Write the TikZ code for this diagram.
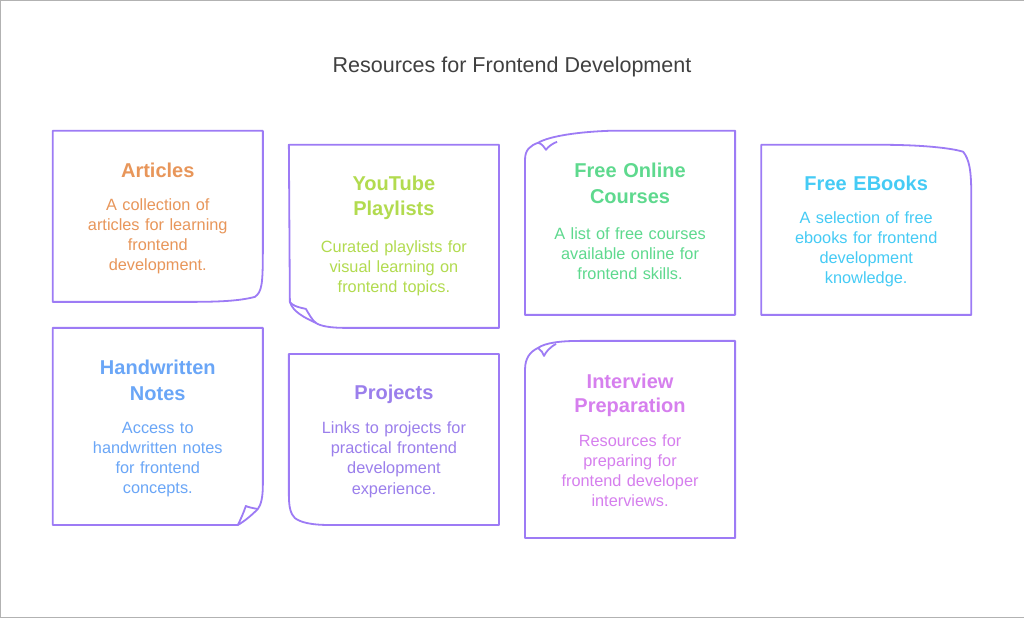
\documentclass[tikz,border=0pt]{standalone}
\usepackage{fontspec}
\setmainfont{Liberation Sans}
\definecolor{frame}{HTML}{9D7BF5}
\definecolor{cA}{HTML}{E8965A}
\definecolor{cB}{HTML}{B2DB4F}
\definecolor{cC}{HTML}{5ED98E}
\definecolor{cD}{HTML}{45CBF5}
\definecolor{cE}{HTML}{6AA6F7}
\definecolor{cF}{HTML}{9B7FEC}
\definecolor{cG}{HTML}{D67FEE}
\begin{document}
\begin{tikzpicture}[x=1pt,y=-1pt,
  outline/.style={draw=frame,line width=1.8pt,line join=round},
  ttl/.style={font=\bfseries\fontsize{20}{26}\selectfont,align=center,text width=200pt,anchor=center,inner sep=0},
  bdy/.style={font=\fontsize{16.3}{20}\selectfont,align=center,text width=200pt,anchor=north,inner sep=0}]
\path[use as bounding box,draw=gray!60,fill=white] (0.5,0.5) rectangle (1023.5,617.5);
\node[font=\fontsize{21.5}{24}\selectfont,text=black!75] (title) at (512,67) {Resources for Frontend Development};
% Articles (bottom-right curl)
\draw[outline] (53,131) -- (263,131) -- (263,250) .. controls (263,285) and (262,292) .. (255,297) .. controls (240,301) and (220,302) .. (190,302) -- (53,302) -- cycle;
\node[ttl,text=cA] (t1) at (158,171) {Articles};
\node[bdy,text=cA] (b1) at (158,199) {A collection of\\articles for learning\\frontend\\development.};
% YouTube (bottom-left curl)
\draw[outline] (289,145) -- (499,145) -- (499,328) -- (345,328) .. controls (330,328) and (320,326) .. (316,323) .. controls (305,318) and (293,312) .. (290,302) -- cycle;
\draw[outline] (290,302) .. controls (292,305) and (296,307) .. (306,309) .. controls (309,314) and (312,320) .. (316,323);
\node[ttl,text=cB] (t2) at (394,184) {YouTube};
\node[ttl,text=cB] (t2b) at (394,211) {Playlists};
\node[bdy,text=cB] (b2) at (394,241) {Curated playlists for\\visual learning on\\frontend topics.};
% Free Online Courses (top-left curl)
\draw[outline] (525,315) -- (735,315) -- (735,131) -- (610,131) .. controls (580,132) and (550,136) .. (538,143) .. controls (530,146) and (525,150) .. (525,160) -- cycle;
\draw[outline] (538,143) .. controls (542,144) and (544,147) .. (546,150) .. controls (548,147) and (552,144) .. (557,142);
\node[ttl,text=cC] (t3) at (630,171) {Free Online};
\node[ttl,text=cC] (t3b) at (630,197) {Courses};
\node[bdy,text=cC] (b3) at (630,228) {A list of free courses\\available online for\\frontend skills.};
% Free EBooks (top-right curl)
\draw[outline] (761,145) -- (880,145) .. controls (920,145) and (950,148) .. (963,152) .. controls (969,160) and (971,170) .. (971,195) -- (971,315) -- (761,315) -- cycle;
\node[ttl,text=cD] (t4) at (866,184) {Free EBooks};
\node[bdy,text=cD] (b4) at (866,212) {A selection of free\\ebooks for frontend\\development\\knowledge.};
% Handwritten Notes (bottom-right curl)
\draw[outline] (53,328) -- (263,328) -- (263,485) .. controls (263,498) and (261,505) .. (258,509) .. controls (252,515) and (245,521) .. (238,525) -- (53,525) -- cycle;
\draw[outline] (258,509) .. controls (252,508) and (248,507) .. (246,506) .. controls (244,512) and (241,519) .. (238,525);
\node[ttl,text=cE] (t5) at (158,367) {Handwritten};
\node[ttl,text=cE] (t5b) at (158,394) {Notes};
\node[bdy,text=cE] (b5) at (158,422) {Access to\\handwritten notes\\for frontend\\concepts.};
% Projects (bottom-left curl)
\draw[outline] (289,354) -- (499,354) -- (499,525) -- (330,525) .. controls (310,525) and (300,522) .. (295,518) .. controls (291,514) and (289,508) .. (289,495) -- cycle;
\node[ttl,text=cF] (t6) at (394,394) {Projects};
\node[bdy,text=cF] (b6) at (394,422) {Links to projects for\\practical frontend\\development\\experience.};
% Interview Preparation (top-left curl)
\draw[outline] (525,538) -- (735,538) -- (735,341) -- (580,341) .. controls (560,341) and (545,343) .. (538,348) .. controls (530,352) and (525,358) .. (525,370) -- cycle;
\draw[outline] (538,348) .. controls (541,350) and (543,353) .. (544,356) .. controls (546,352) and (549,348) .. (556,344);
\node[ttl,text=cG] (t7) at (630,381) {Interview};
\node[ttl,text=cG] (t7b) at (630,407) {Preparation};
\node[bdy,text=cG] (b7) at (630,435) {Resources for\\preparing for\\frontend developer\\interviews.};
\end{tikzpicture}
\end{document}
